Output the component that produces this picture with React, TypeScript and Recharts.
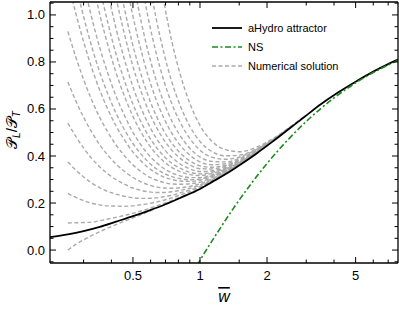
import { LineChart, Line, XAxis, YAxis, Legend } from 'recharts'

const FONT = '"Liberation Sans", Arial, sans-serif'
const GRAY = '#aaaaaa'
const GREEN = '#1a8c1a'

// w values the numerical solutions are sampled at
const wGrid = [0.255, 0.277, 0.301, 0.327, 0.355, 0.386, 0.419, 0.456, 0.495, 0.538, 0.584, 0.634,
  0.689, 0.748, 0.813, 0.902, 1.0, 1.13, 1.3, 1.51, 1.79, 2.11, 2.54, 2.96]

const _ = null
const sol01 = [0.000, 0.024, 0.044, 0.062, 0.078, 0.094, 0.108, 0.122, 0.135, 0.149, 0.163, 0.177, _, _, _, _, _, _, _, _, _, _, _, _]
const sol02 = [0.115, 0.116, 0.117, 0.119, 0.125, 0.132, 0.139, 0.147, 0.155, 0.165, 0.175, 0.187, 0.198, 0.211, 0.225, _, _, _, _, _, _, _, _, _]
const sol03 = [0.240, 0.224, 0.210, 0.199, 0.192, 0.188, 0.187, 0.186, 0.188, 0.192, 0.197, 0.204, 0.212, 0.222, 0.234, 0.248, 0.266, 0.293, _, _, _, _, _, _]
const sol04 = [0.375, 0.340, 0.310, 0.284, 0.265, 0.249, 0.238, 0.229, 0.223, 0.220, 0.220, 0.222, 0.227, 0.233, 0.243, 0.255, 0.271, 0.296, 0.326, _, _, _, _, _]
const sol05 = [0.540, 0.483, 0.432, 0.389, 0.353, 0.324, 0.300, 0.281, 0.265, 0.255, 0.248, 0.245, 0.245, 0.248, 0.254, 0.263, 0.276, 0.299, 0.328, 0.365, _, _, _, _]
const sol06 = [0.715, 0.634, 0.562, 0.500, 0.447, 0.403, 0.366, 0.336, 0.311, 0.292, 0.278, 0.269, 0.264, 0.263, 0.265, 0.271, 0.282, 0.303, 0.331, 0.367, 0.412, _, _, _]
const sol07 = [0.930, 0.820, 0.722, 0.636, 0.563, 0.501, 0.448, 0.403, 0.366, 0.337, 0.314, 0.298, 0.287, 0.281, 0.280, 0.282, 0.289, 0.308, 0.334, 0.368, 0.413, _, _, _]
const sol08 = [1.145, 1.006, 0.882, 0.772, 0.679, 0.598, 0.529, 0.471, 0.422, 0.383, 0.351, 0.328, 0.310, 0.300, 0.294, 0.292, 0.297, 0.313, 0.336, 0.370, 0.414, _, _, _]
const sol09 = [_, 1.129, 0.988, 0.863, 0.755, 0.663, 0.583, 0.515, 0.459, 0.413, 0.376, 0.347, 0.326, 0.312, 0.304, 0.299, 0.302, 0.316, 0.338, 0.371, 0.414, 0.462, _, _]
const sol10 = [_, _, 1.131, 0.985, 0.859, 0.750, 0.656, 0.576, 0.508, 0.453, 0.408, 0.374, 0.347, 0.328, 0.316, 0.308, 0.308, 0.320, 0.341, 0.372, 0.415, 0.462, _, _]
const sol11 = [_, _, _, 1.153, 1.001, 0.870, 0.757, 0.659, 0.577, 0.509, 0.454, 0.410, 0.376, 0.351, 0.334, 0.321, 0.317, 0.326, 0.344, 0.374, 0.416, 0.463, _, _]
const sol12 = [_, _, _, _, 1.114, 0.965, 0.836, 0.725, 0.631, 0.553, 0.490, 0.439, 0.399, 0.369, 0.348, 0.331, 0.324, 0.331, 0.347, 0.375, 0.417, 0.463, _, _]
const sol13 = [_, _, _, _, _, 1.095, 0.945, 0.816, 0.706, 0.614, 0.539, 0.478, 0.430, 0.394, 0.367, 0.345, 0.334, 0.337, 0.351, 0.377, 0.418, 0.463, _, _]
const sol14 = [_, _, _, _, _, _, 1.076, 0.925, 0.795, 0.687, 0.598, 0.526, 0.468, 0.424, 0.391, 0.362, 0.346, 0.345, 0.356, 0.380, 0.419, 0.464, 0.521, _]
const sol15 = [_, _, _, _, _, _, 1.209, 1.035, 0.886, 0.761, 0.658, 0.574, 0.506, 0.454, 0.414, 0.379, 0.358, 0.352, 0.360, 0.382, 0.420, 0.465, 0.521, _]
const sol16 = [_, _, _, _, _, _, _, 1.191, 1.014, 0.866, 0.743, 0.642, 0.560, 0.496, 0.447, 0.403, 0.375, 0.363, 0.367, 0.386, 0.422, 0.465, 0.521, _]
const sol17 = [_, _, _, _, _, _, _, _, 1.171, 0.994, 0.846, 0.725, 0.626, 0.548, 0.488, 0.432, 0.396, 0.377, 0.375, 0.390, 0.424, 0.466, 0.521, _]
const sol18 = [_, _, _, _, _, _, _, _, _, 1.174, 0.992, 0.842, 0.719, 0.621, 0.545, 0.473, 0.425, 0.395, 0.386, 0.396, 0.427, 0.468, 0.522, _]
const sol19 = [_, _, _, _, _, _, _, _, _, _, 1.176, 0.990, 0.837, 0.714, 0.617, 0.525, 0.462, 0.419, 0.401, 0.404, 0.430, 0.469, 0.523, 0.570]
const sol20 = [_, _, _, _, _, _, _, _, _, _, _, 1.265, 1.055, 0.886, 0.751, 0.622, 0.530, 0.463, 0.427, 0.418, 0.437, 0.472, 0.524, 0.570]

const solutions = [sol01, sol02, sol03, sol04, sol05, sol06, sol07, sol08, sol09, sol10,
  sol11, sol12, sol13, sol14, sol15, sol16, sol17, sol18, sol19, sol20]

// aHydro attractor
const wAttr = [0.212, 0.255, 0.3, 0.355, 0.42, 0.5, 0.59, 0.7, 0.82, 1.0, 1.13, 1.3, 1.51, 1.79, 2.11, 2.54, 2.96, 3.5, 4.2, 5.0, 6.0, 7.0, 7.75]
const attractor = [0.055, 0.067, 0.081, 0.099, 0.121, 0.144, 0.168, 0.195, 0.223, 0.26, 0.289, 0.322, 0.362, 0.41, 0.46, 0.519, 0.568, 0.621, 0.672, 0.716, 0.759, 0.791, 0.81]

// Navier-Stokes
const wNs = [0.97, 0.985, 1.0, 1.1, 1.2, 1.4, 1.7, 2.0, 2.5, 3.0, 4.0, 5.0, 6.0, 7.0, 7.75]
const ns = [-0.065, -0.055, -0.044, 0.020, 0.076, 0.172, 0.283, 0.368, 0.472, 0.547, 0.647, 0.711, 0.755, 0.787, 0.807]

const xTicks = [0.3, 0.4, 0.5, 0.6, 0.7, 0.8, 0.9, 1, 1.5, 2, 3, 4, 5, 6, 7]
const xMajor = [0.5, 1, 2, 5]
const yTicks = [-0.05, 0, 0.05, 0.1, 0.15, 0.2, 0.25, 0.3, 0.35, 0.4, 0.45, 0.5, 0.55, 0.6, 0.65, 0.7, 0.75, 0.8, 0.85, 0.9, 0.95, 1.0, 1.05]
const yMajor = [0, 0.2, 0.4, 0.6, 0.8, 1.0]

const X_DOMAIN = [0.212, 7.75]
const Y_DOMAIN = [-0.055, 1.055]

const isMajor = (list: number[], v: number) => list.some(m => Math.abs(m - v) < 1e-9)

function BottomTick({ x, y, payload }: any) {
  const major = isMajor(xMajor, payload.value)
  return (
    <g>
      <line x1={x} y1={y} x2={x} y2={y - (major ? 6 : 3.5)} stroke="#000" strokeWidth={1} />
      {major && (
        <text x={x} y={y + 17} textAnchor="middle" fontSize={13} fontFamily={FONT} fill="#000">
          {payload.value}
        </text>
      )}
    </g>
  )
}

function TopTick({ x, y, payload }: any) {
  const major = isMajor(xMajor, payload.value)
  return <line x1={x} y1={y} x2={x} y2={y + (major ? 6 : 3.5)} stroke="#000" strokeWidth={1} />
}

function LeftTick({ x, y, payload }: any) {
  const major = isMajor(yMajor, payload.value)
  return (
    <g>
      <line x1={x} y1={y} x2={x + (major ? 6 : 3.5)} y2={y} stroke="#000" strokeWidth={1} />
      {major && (
        <text x={x - 5} y={y + 4.5} textAnchor="end" fontSize={13} fontFamily={FONT} fill="#000">
          {payload.value.toFixed(1)}
        </text>
      )}
    </g>
  )
}

function RightTick({ x, y, payload }: any) {
  const major = isMajor(yMajor, payload.value)
  return <line x1={x} y1={y} x2={x - (major ? 6 : 3.5)} y2={y} stroke="#000" strokeWidth={1} />
}

function LegendBox() {
  const rows = [
    { label: 'aHydro attractor', stroke: '#000', dash: undefined, width: 1.8 },
    { label: 'NS', stroke: GREEN, dash: '6 2.5 2 2.5', width: 1.6 },
    { label: 'Numerical solution', stroke: GRAY, dash: '4 2.5', width: 1.4 },
  ]
  return (
    <svg width={150} height={56} style={{ display: 'block' }}>
      {rows.map((r, i) => (
        <g key={r.label}>
          <line x1={2} x2={32} y1={8 + i * 19} y2={8 + i * 19} stroke={r.stroke}
            strokeWidth={r.width} strokeDasharray={r.dash} />
          <text x={38} y={12 + i * 19} fontSize={11} fontFamily={FONT} fill="#000">{r.label}</text>
        </g>
      ))}
    </svg>
  )
}

const YTitle = () => (
  <text transform="translate(17,130) rotate(-90)" textAnchor="middle" fontSize={15}
    fontFamily={FONT} fill="#000">
    <tspan>𝒫</tspan>
    <tspan fontSize={10} dy={3} fontStyle="italic">L</tspan>
    <tspan dy={-3}>/𝒫</tspan>
    <tspan fontSize={10} dy={3} fontStyle="italic">T</tspan>
  </text>
)

const XTitle = () => (
  <text x={224} y={302} textAnchor="middle" fontSize={16} fontStyle="italic"
    fontFamily={FONT} fill="#000" style={{ textDecoration: 'overline' }}>
    w
  </text>
)

export default function App() {
  const attrData = wAttr.map((w, i) => ({ w, v: attractor[i] }))
  const nsData = wNs.map((w, i) => ({ w, v: ns[i] }))
  const solData = solutions.map(s =>
    wGrid.map((w, i) => ({ w, v: s[i] })).filter(p => p.v !== null)
  )

  return (
    <div style={{ position: 'absolute', left: 0, top: 0, background: '#fff' }}>
      <LineChart width={399} height={309} margin={{ top: 1, right: 0, bottom: 45, left: 49 }}>
        <XAxis dataKey="w" type="number" scale="log" domain={X_DOMAIN} allowDataOverflow
          ticks={xTicks} interval={0} tickSize={0} tickMargin={0} tickLine={false}
          height={1} axisLine={{ stroke: '#000', strokeWidth: 1.3 }} tick={<BottomTick />}
          label={<XTitle />} />
        <XAxis xAxisId="top" orientation="top" dataKey="w" type="number" scale="log"
          domain={X_DOMAIN} allowDataOverflow ticks={xTicks} interval={0} tickSize={0}
          tickMargin={0} tickLine={false} height={1}
          axisLine={{ stroke: '#000', strokeWidth: 1.3 }} tick={<TopTick />} />
        <YAxis type="number" domain={Y_DOMAIN} allowDataOverflow ticks={yTicks} interval={0}
          tickSize={0} tickMargin={0} tickLine={false} width={1}
          axisLine={{ stroke: '#000', strokeWidth: 1.3 }} tick={<LeftTick />}
          label={<YTitle />} />
        <YAxis yAxisId="right" orientation="right" type="number" domain={Y_DOMAIN} allowDataOverflow
          ticks={yTicks} interval={0} tickSize={0} tickMargin={0} tickLine={false} width={1}
          axisLine={{ stroke: '#000', strokeWidth: 1.3 }} tick={<RightTick />} />

        {solData.map((d, i) => (
          <Line key={i} data={d} dataKey="v" type="monotone" stroke={GRAY} strokeWidth={1.4}
            strokeDasharray="4 2.5" dot={false} activeDot={false} isAnimationActive={false} />
        ))}
        <Line data={attrData} dataKey="v" type="monotone" stroke="#000" strokeWidth={1.8}
          dot={false} activeDot={false} isAnimationActive={false} />
        <Line data={nsData} dataKey="v" type="monotone" stroke={GREEN} strokeWidth={1.6}
          strokeDasharray="6 2.5 2 2.5" dot={false} activeDot={false} isAnimationActive={false} />

        <Legend layout="vertical" align="center" verticalAlign="middle" content={<LegendBox />}
          wrapperStyle={{ position: 'absolute', left: 210, top: 20, width: 150, height: 56 }} />
      </LineChart>
    </div>
  )
}
